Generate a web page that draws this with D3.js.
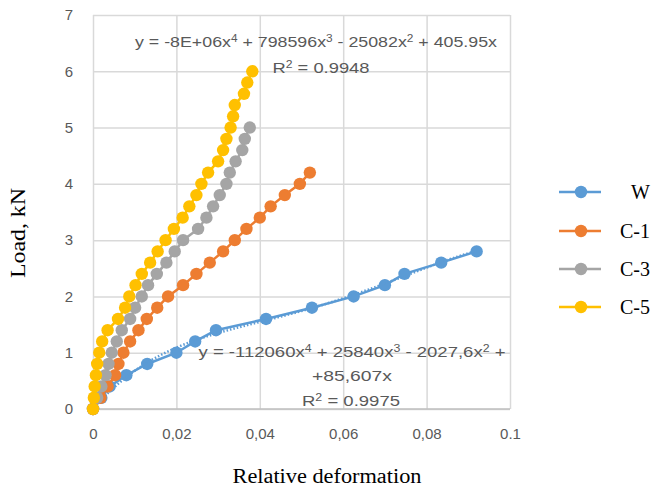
<!DOCTYPE html>
<html>
<head>
<meta charset="utf-8">
<script src="https://cdn.jsdelivr.net/npm/d3@7"></script>
<style>
  body { margin: 0; background: #fff; }
  svg { display: block; }
</style>
</head>
<body>
<div id="chart"></div>
<script>
// load steps (kN), 0.2 apart
var loadW  = [0,0.2,0.4,0.6,0.8,1.0,1.2,1.4,1.6,1.8,2.0,2.2,2.4,2.6,2.8];
var loadC1 = [0,0.2,0.4,0.6,0.8,1.0,1.2,1.4,1.6,1.8,2.0,2.2,2.4,2.6,2.8,3.0,3.2,3.4,3.6,3.8,4.0,4.2];
var loadC3 = [0,0.2,0.4,0.6,0.8,1.0,1.2,1.4,1.6,1.8,2.0,2.2,2.4,2.6,2.8,3.0,3.2,3.4,3.6,3.8,4.0,4.2,4.4,4.6,4.8,5.0];
var loadC5 = [0,0.2,0.4,0.6,0.8,1.0,1.2,1.4,1.6,1.8,2.0,2.2,2.4,2.6,2.8,3.0,3.2,3.4,3.6,3.8,4.0,4.2,4.4,4.6,4.8,5.0,5.2,5.4,5.6,5.8,6.0];

// relative deformation
var defW  = [0,0.002,0.004,0.008,0.013,0.02,0.0245,0.0295,0.0415,0.0525,0.0625,0.07,0.0747,0.0835,0.092];
var defC1 = [0,0.0018,0.0035,0.0053,0.0061,0.0073,0.0089,0.0109,0.0129,0.0154,0.018,0.0216,0.0248,0.028,0.0312,0.034,0.0368,0.04,0.0426,0.046,0.0496,0.052];
var defC3 = [0,0.001,0.002,0.003,0.0037,0.0045,0.0057,0.0069,0.0089,0.0101,0.0117,0.0132,0.0153,0.0176,0.0196,0.0216,0.0252,0.0272,0.0288,0.0304,0.032,0.0328,0.0342,0.0358,0.0364,0.0376];
var defC5 = [0,0.0002,0.0004,0.0007,0.001,0.0015,0.0022,0.0035,0.006,0.0077,0.0087,0.0102,0.0117,0.0137,0.0155,0.0174,0.0194,0.0215,0.0231,0.0248,0.026,0.0276,0.030,0.0312,0.032,0.033,0.0336,0.034,0.0362,0.037,0.0382];

var seriesNames = ["W","C-1","C-3","C-5"];
var seriesColors = ["#5B9BD5","#ED7D31","#A5A5A5","#FFC000"];

// axis ticks
var xTicks = [0,0.02,0.04,0.06,0.08,0.1];
var xTickLabels = ["0","0,02","0,04","0,06","0,08","0.1"];
var yTicks = [0,1,2,3,4,5,6,7];

// polynomial trendline of W (coefficients x^0..x^4) and its labels
var trendW = [0,85.607,-2027.6,25840,-112060];
var eqW1 = ["y = -112060x","4"," + 25840x","3"," - 2027,6x","2"," +"];
var eqW2 = ["+85,607x"];
var eqW3 = ["R","2"," = 0.9975"];
var eqC51 = ["y = -8E+06x","4"," + 798596x","3"," - 25082x","2"," + 405.95x"];
var eqC52 = ["R","2"," = 0.9948"];

(function(){
  var W = 658, H = 490;
  var layout = {left: 93, right: 510, top: 15, bottom: 409};
  var svg = d3.select("#chart").append("svg").attr("width", W).attr("height", H);

  var x = d3.scaleLinear().domain([0,0.1]).range([layout.left, layout.right]);
  var y = d3.scaleLinear().domain([0,7]).range([layout.bottom, layout.top]);

  var tickFont = "'Liberation Sans', Arial, sans-serif";
  var serif = "'Liberation Serif', 'Times New Roman', serif";

  /** grid **/
  var gx = svg.append("g").attr("transform","translate(0,"+layout.bottom+")")
    .call(d3.axisBottom(x).tickValues(xTicks).tickSize(-(layout.bottom-layout.top))
      .tickFormat(function(d,i){ return xTickLabels[i]; }).tickPadding(19));
  gx.select(".domain").remove();
  gx.selectAll("line").attr("stroke","#d9d9d9").attr("stroke-width",1.5);
  gx.selectAll("text").attr("fill","#595959").style("font-family",tickFont).style("font-size","15px");

  var gy = svg.append("g").attr("transform","translate("+layout.left+",0)")
    .call(d3.axisLeft(y).tickValues(yTicks).tickSize(-(layout.right-layout.left))
      .tickFormat(d3.format("d")).tickPadding(20));
  gy.select(".domain").remove();
  gy.selectAll("line").attr("stroke","#d9d9d9").attr("stroke-width",1.5);
  gy.selectAll("text").attr("fill","#595959").style("font-family",tickFont).style("font-size","15px");

  // bottom axis line
  svg.append("line").attr("x1",layout.left).attr("x2",layout.right)
    .attr("y1",layout.bottom).attr("y2",layout.bottom)
    .attr("stroke","#bfbfbf").attr("stroke-width",1.5);

  /** series **/
  var series = [
    {xs: defW, ys: loadW},
    {xs: defC1, ys: loadC1},
    {xs: defC3, ys: loadC3},
    {xs: defC5, ys: loadC5}
  ];
  var line = d3.line().x(function(d){ return x(d[0]); }).y(function(d){ return y(d[1]); });

  series.forEach(function(s, i){
    var pts = s.xs.map(function(v,k){ return [v, s.ys[k]]; });
    var g = svg.append("g");
    g.append("path").datum(pts).attr("d", line)
      .attr("fill","none").attr("stroke",seriesColors[i]).attr("stroke-width",2.5);
    g.selectAll("circle").data(pts).enter().append("circle")
      .attr("cx",function(d){ return x(d[0]); })
      .attr("cy",function(d){ return y(d[1]); })
      .attr("r",6.2).attr("fill",seriesColors[i]);

    if(i === 0){
      // dotted polynomial trendline
      var tx = d3.range(0, defW[defW.length-1]+0.0001, 0.0005);
      var tp = tx.map(function(v){
        var s2 = 0;
        trendW.forEach(function(c,p){ s2 += c*Math.pow(v,p); });
        return [v, s2];
      });
      g.append("path").datum(tp).attr("d", line)
        .attr("fill","none").attr("stroke",seriesColors[0])
        .attr("stroke-width",2.5).attr("stroke-dasharray","1.5,2");
    }
  });

  /** trendline labels **/
  function eqText(parts, cx, by, len){
    var t = svg.append("text").attr("x",cx).attr("y",by).attr("text-anchor","middle")
      .attr("fill","#595959").style("font-family",tickFont).style("font-size","15px");
    parts.forEach(function(p,k){
      var ts = t.append("tspan").text(p);
      if(k % 2 === 1){ ts.attr("baseline-shift","super").style("font-size","10px"); }
    });
    if(len){ t.attr("textLength",len).attr("lengthAdjust","spacingAndGlyphs"); }
    return t;
  }
  eqText(eqC51, 316, 47, 362);
  eqText(eqC52, 321, 73, 97);
  eqText(eqW1, 352, 357, 307);
  eqText(eqW2, 352, 381, 80);
  eqText(eqW3, 351, 406, 98);

  /** legend **/
  var leg = svg.append("g");
  var legY = [192,231,269,307];
  seriesNames.forEach(function(n,i){
    leg.append("line").attr("x1",559).attr("x2",601).attr("y1",legY[i]).attr("y2",legY[i])
      .attr("stroke",seriesColors[i]).attr("stroke-width",2.5);
    leg.append("circle").attr("cx",581).attr("cy",legY[i]).attr("r",6.2).attr("fill",seriesColors[i]);
    leg.append("text").attr("x", i === 0 ? 631 : 620).attr("y",legY[i]+7)
      .attr("fill","#000").style("font-family",serif).style("font-size","20px").text(n);
  });

  /** axis titles **/
  svg.append("text").attr("x",327).attr("y",483).attr("text-anchor","middle")
    .style("font-family",serif).style("font-size","20px").attr("fill","#000")
    .attr("textLength",189).attr("lengthAdjust","spacingAndGlyphs")
    .text("Relative deformation");
  svg.append("text").attr("transform","translate(25,233) rotate(-90)").attr("text-anchor","middle")
    .style("font-family",serif).style("font-size","20px").attr("fill","#000")
    .attr("textLength",90).attr("lengthAdjust","spacingAndGlyphs")
    .text("Load, kN");
})();
</script>
</body>
</html>
